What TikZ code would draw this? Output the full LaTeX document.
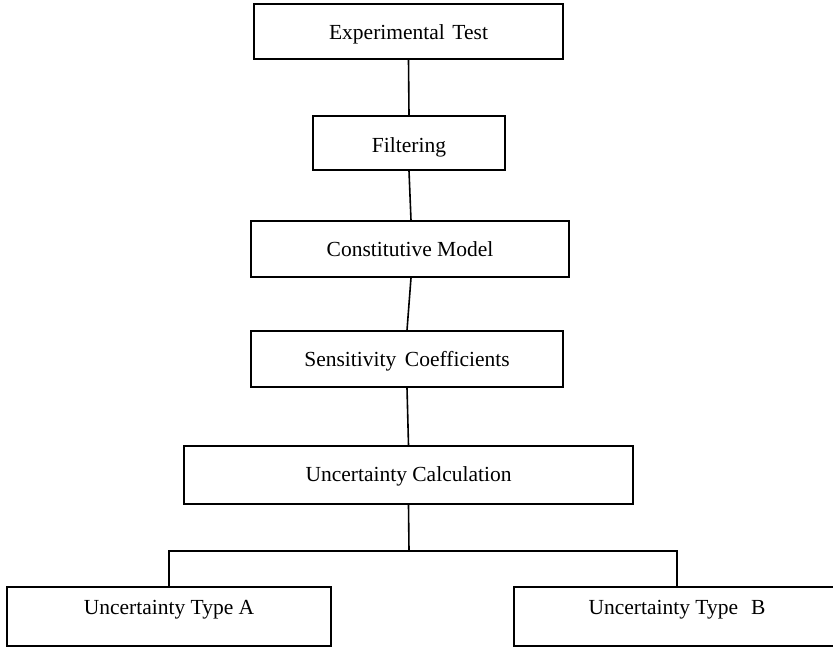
\documentclass[tikz,border=0pt]{standalone}
\usepackage{fontspec}
\setmainfont{Liberation Serif}
\begin{document}
\begin{tikzpicture}[x=1pt,y=-1pt,
  stepbox/.style={draw, line width=1.6pt, rectangle, inner sep=0pt, text depth=0pt,
    font=\fontsize{21.5}{24}\selectfont},
  link/.style={line width=1.6pt}]
\useasboundingbox (0,0) rectangle (833,647);
\clip (0,0) rectangle (833,647);
\node[stepbox, minimum width=309, minimum height=55, text height=17pt] (e) at (408.5,31.5) {Experimental\hspace{0.35em}Test};
\node[stepbox, minimum width=192, minimum height=54, text height=19.4pt] (f) at (409,143) {Filtering};
\node[stepbox, minimum width=318, minimum height=56, text height=15.4pt] (c) at (410,249) {Constitutive Model};
\node[stepbox, minimum width=312, minimum height=56, text height=15.4pt] (s) at (407,359) {Sensitivity\hspace{0.4em}Coefficients};
\node[stepbox, minimum width=449, minimum height=58, text height=13.4pt] (u) at (408.5,475) {Uncertainty Calculation};
\node[stepbox, minimum width=324, minimum height=59, text height=0pt, text depth=5pt] (a) at (169,616.5) {Uncertainty Type A};
\node[stepbox, minimum width=326, minimum height=59, text height=0pt, text depth=5pt] (b) at (677,616.5) {Uncertainty Type\hspace{0.6em}B};
\coordinate (j) at (409,551);
\draw[link] (e.south) -- (f.north);
\draw[link] (f.south) -- ([xshift=1]c.north);
\draw[link] ([xshift=1]c.south) -- (s.north);
\draw[link] (s.south) -- (u.north);
\draw[link] (u.south) -- (j);
\draw[link] (a.north) |- (j) -| (b.north);
\end{tikzpicture}
\end{document}
